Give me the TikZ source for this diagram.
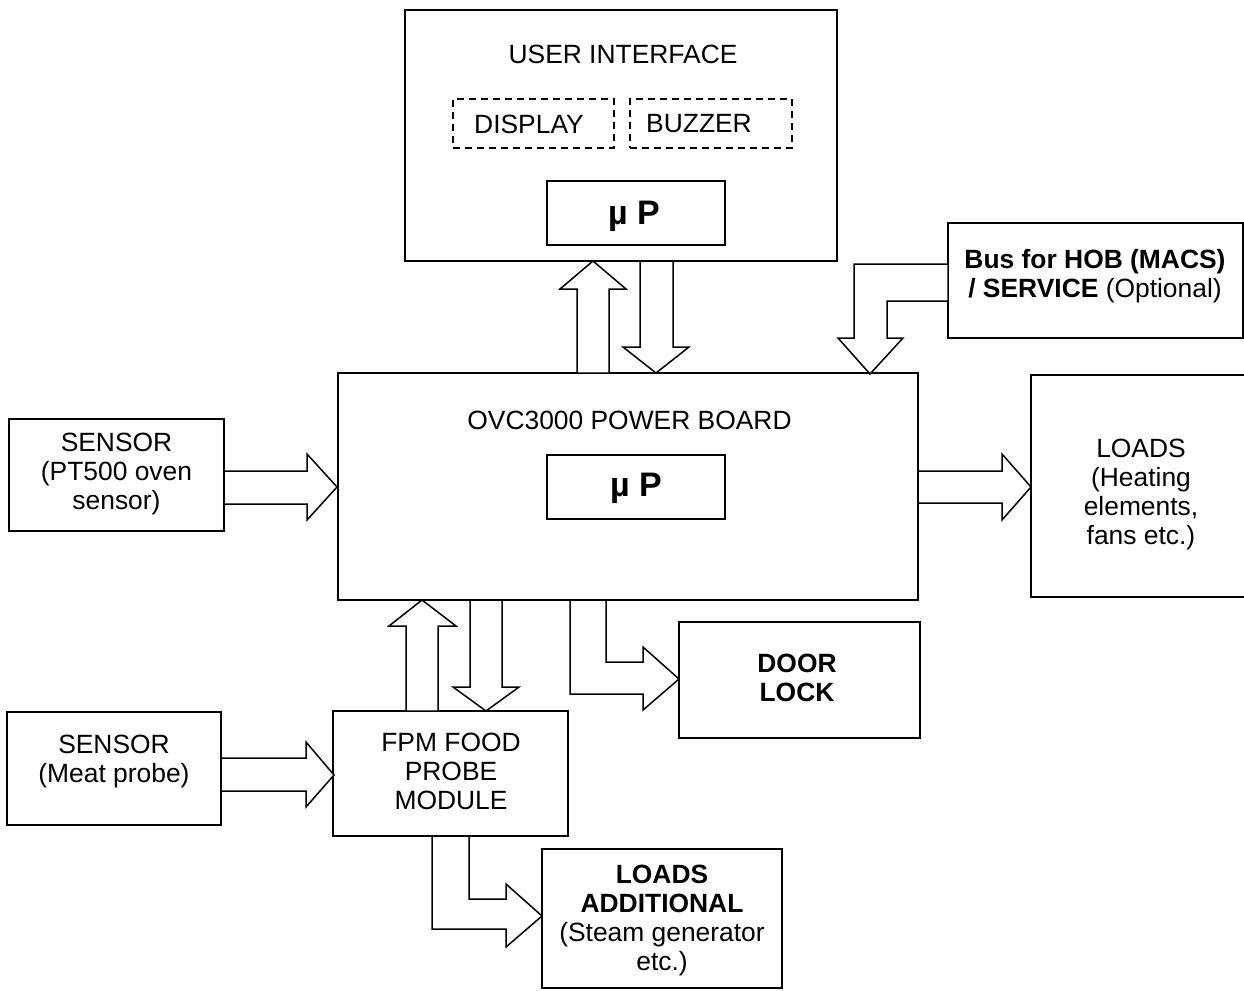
\documentclass[tikz,border=0pt]{standalone}
\usepackage{fontspec}
\setmainfont{Liberation Sans}
\begin{document}
\begin{tikzpicture}[x=1pt,y=-1pt,
  box/.style={draw, line width=1.5pt, inner sep=0pt},
  dbox/.style={draw, line width=1.1pt, dash pattern=on 7pt off 5pt, inner sep=0pt},
  txt/.style={align=center, inner sep=0pt, font=\fontsize{26.4}{29}\selectfont},
  mptxt/.style={inner sep=0pt, font=\fontsize{34}{38}\selectfont\bfseries},
  barrow/.style={draw, fill=white, line width=1.5pt, line join=miter}]
\useasboundingbox (0,0) rectangle (1244,990);
% boxes
\node[box, minimum width=432pt, minimum height=251pt] (ui) at (621,135.5) {};
\node[dbox, minimum width=161pt, minimum height=49pt] (disp) at (533.5,123.5) {};
\node[dbox, minimum width=162pt, minimum height=49pt] (buzz) at (711,123.5) {};
\node[box, minimum width=178pt, minimum height=64pt] (uimp) at (636,213) {};
\node[box, minimum width=295pt, minimum height=115pt] (bus) at (1095.5,280.5) {};
\node[box, minimum width=580pt, minimum height=227pt] (main) at (628,486.5) {};
\node[box, minimum width=178pt, minimum height=64pt] (mainmp) at (636,487) {};
\node[box, minimum width=215pt, minimum height=112pt] (sens1) at (116.5,475) {};
\node[box, minimum width=225pt, minimum height=222pt] (loads) at (1143.5,486) {};
\node[box, minimum width=241pt, minimum height=116pt] (door) at (799.5,680) {};
\node[box, minimum width=214pt, minimum height=113pt] (sens2) at (114,768.5) {};
\node[box, minimum width=235pt, minimum height=125pt] (fpm) at (450.5,773.5) {};
\node[box, minimum width=240pt, minimum height=139pt] (ladd) at (662,918.5) {};
% texts
\node[txt] (uit) at (623,54) {USER INTERFACE};
\node[txt] (dispt) at (529,124) {DISPLAY};
\node[txt] (buzzt) at (699,124) {BUZZER};
\node[mptxt] (uimpt) at (634,216) {µ P};
\node[txt] (bust) at (1095,276) {\textbf{Bus for HOB (MACS)}\\\textbf{/ SERVICE} (Optional)};
\node[txt] (maint) at (629.5,420) {OVC3000 POWER BOARD};
\node[mptxt] (mainmpt) at (636,488) {µ P};
\node[txt] (sens1t) at (116.5,474) {SENSOR\\(PT500 oven\\sensor)};
\node[txt] (loadst) at (1141,495) {LOADS\\(Heating\\elements,\\fans etc.)};
\node[txt] (doort) at (797,678) {\textbf{DOOR}\\\textbf{LOCK}};
\node[txt] (sens2t) at (114,762) {SENSOR\\(Meat probe)};
\node[txt] (fpmt) at (451,771) {FPM FOOD\\PROBE\\MODULE};
\node[txt] (laddt) at (662,921) {\textbf{LOADS}\\\textbf{ADDITIONAL}\\(Steam generator\\etc.)};
% block arrows
\draw[barrow] (577,373) -- (577,289) -- (560,289) -- (593,261) -- (626,289) -- (609,289) -- (609,373) -- cycle;
\draw[barrow] (640,261) -- (640,347) -- (623,347) -- (656,373) -- (689,347) -- (673,347) -- (673,261) -- cycle;
\draw[barrow] (948,264) -- (854,264) -- (854,338) -- (838,338) -- (870,374) -- (903,338) -- (887,338) -- (887,301) -- (948,301) -- cycle;
\draw[barrow] (224,471) -- (307,471) -- (307,454) -- (337,487) -- (307,520) -- (307,504) -- (224,504) -- cycle;
\draw[barrow] (918,471) -- (1002,471) -- (1002,454) -- (1031,487) -- (1002,520) -- (1002,503) -- (918,503) -- cycle;
\draw[barrow] (406,711) -- (406,626) -- (389,626) -- (422,600) -- (456,626) -- (438,626) -- (438,711) -- cycle;
\draw[barrow] (470,600) -- (470,687) -- (453,687) -- (486,711) -- (519,687) -- (502,687) -- (502,600) -- cycle;
\draw[barrow] (570,600) -- (570,694) -- (643,694) -- (643,710) -- (679,679) -- (643,647) -- (643,662) -- (606,662) -- (606,600) -- cycle;
\draw[barrow] (221,758) -- (306,758) -- (306,742) -- (334,775) -- (306,807) -- (306,791) -- (221,791) -- cycle;
\draw[barrow] (432,836) -- (432,929) -- (506,929) -- (506,947) -- (542,916) -- (506,884) -- (506,899) -- (469,899) -- (469,836) -- cycle;
\end{tikzpicture}
\end{document}
